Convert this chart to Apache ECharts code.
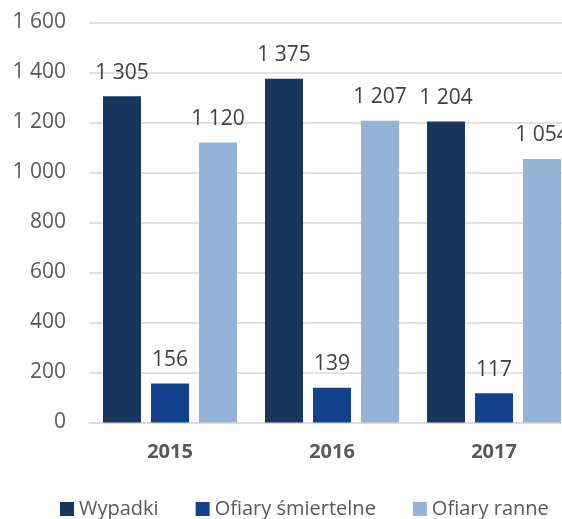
<!DOCTYPE html>
<html>
<head>
<meta charset="utf-8">
<script src="https://cdn.jsdelivr.net/npm/echarts@6/dist/echarts.min.js"></script>
<style>
  html, body { margin: 0; padding: 0; background: #fff; }
  #chart { width: 562px; height: 519px; }
</style>
</head>
<body>
<div id="chart"></div>
<script>
var years = ['2015', '2016', '2017'];
var seriesNames = ['Wypadki', 'Ofiary śmiertelne', 'Ofiary ranne'];
var wypadki = [1305, 1375, 1204];
var smiertelne = [156, 139, 117];
var ranne = [1120, 1207, 1054];
var colors = ['#17375e', '#14418c', '#95b3d7'];

var FONT = '"Open Sans", sans-serif';

// 1305 -> "1 305"
function fmt(v) {
    return String(v).replace(/\B(?=(\d{3})+(?!\d))/g, ' ');
}

function bar(name, data, color) {
    return {
        name: name,
        type: 'bar',
        barWidth: 38,
        barGap: '26.3%',
        itemStyle: { color: color },
        label: {
            show: true,
            position: 'top',
            distance: 13,
            color: '#404040',
            fontFamily: FONT,
            fontSize: 21,
            formatter: function (p) { return fmt(p.value); }
        },
        data: data
    };
}

var chart = echarts.init(document.getElementById('chart'));
chart.setOption({
    animation: false,
    color: colors,
    // plot runs past the right edge of the picture, as in the source
    grid: {
        left: 89, width: 486, top: 22.5, height: 400,
        containLabel: false,
        outerBoundsMode: 'none'
    },
    legend: {
        data: seriesNames,
        left: 55,
        top: 494,
        width: 505,
        itemWidth: 14,
        itemHeight: 14,
        itemGap: 37,
        icon: 'rect',
        textStyle: { color: '#595959', fontFamily: FONT, fontSize: 20 }
    },
    xAxis: {
        type: 'category',
        data: years,
        axisLine: { lineStyle: { color: '#d9d9d9', width: 1.5 } },
        axisTick: { show: false },
        axisLabel: {
            margin: 20,
            color: '#595959',
            fontFamily: FONT,
            fontSize: 20,
            fontWeight: 'bold'
        }
    },
    yAxis: {
        type: 'value',
        min: 0,
        max: 1600,
        interval: 200,
        axisLine: { show: false },
        axisTick: { show: false },
        splitLine: { lineStyle: { color: '#d9d9d9', width: 1.5 } },
        axisLabel: {
            margin: 23,
            color: '#595959',
            fontFamily: FONT,
            fontSize: 21,
            formatter: fmt
        }
    },
    series: [
        bar(seriesNames[0], wypadki, colors[0]),
        bar(seriesNames[1], smiertelne, colors[1]),
        bar(seriesNames[2], ranne, colors[2])
    ]
});
</script>
</body>
</html>
